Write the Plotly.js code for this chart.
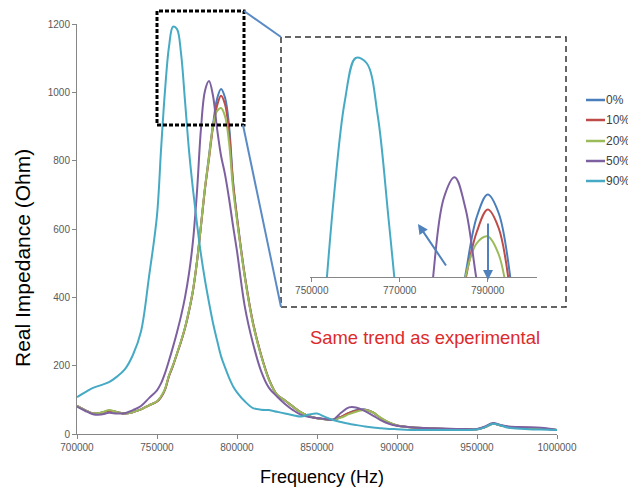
<!DOCTYPE html>
<html>
<head>
<meta charset="utf-8">
<script src="https://cdn.plot.ly/plotly-3.0.1.min.js"></script>
<style>html,body{margin:0;padding:0;background:#fff;}#chart{width:628px;height:491px;}</style>
</head>
<body>
<div id="chart"></div>
<script>
// ---- data ----
const freq = [700000,705000,710000,715000,720000,725000,730000,735000,740000,745000,
  750000,752500,755000,757500,760000,762500,765000,767500,770000,772500,
  775000,777500,780000,782500,785000,787500,790000,792500,795000,797500,
  800000,805000,810000,815000,820000,825000,830000,835000,840000,845000,
  850000,855000,860000,865000,870000,875000,880000,885000,890000,895000,
  900000,910000,920000,930000,940000,950000,955000,960000,965000,970000,
  980000,990000,1000000];

const pct0 = [82,70,60,62,68,64,60,64,72,84,
  95,108,130,170,200,235,270,310,360,420,
  505,610,720,815,905,980,1010,985,905,740,
  635,460,325,232,160,115,98,80,63,52,
  46,43,42,50,62,70,72,63,46,33,
  25,19,17,15,14,14,20,30,25,20,
  18,16,12];

const pct10 = [82,70,60,62,68,64,60,64,72,84,
  95,108,130,170,200,235,270,310,360,420,
  505,610,718,805,898,960,990,965,885,735,
  632,458,325,232,160,115,98,80,63,52,
  46,43,42,50,62,69,71,63,46,33,
  25,19,17,15,14,14,20,30,25,20,
  18,16,12];

const pct20 = [82,70,60,62,70,64,60,64,72,84,
  96,110,132,172,202,236,272,312,362,422,
  506,612,722,810,902,945,954,930,855,720,
  625,455,322,230,158,115,98,80,63,52,
  46,43,42,48,58,66,70,63,47,34,
  25,19,17,15,14,14,20,30,25,20,
  18,16,12];

const pct50 = [80,68,58,57,62,60,61,70,82,105,
  128,148,178,215,255,298,345,400,470,565,
  710,895,1005,1033,990,895,815,760,690,610,
  535,370,265,185,135,110,88,70,56,50,
  47,44,42,62,78,77,67,54,40,30,
  24,19,17,16,15,15,22,32,26,22,
  20,18,12];

const pct90 = [108,122,135,143,152,168,190,232,300,460,
  640,830,1005,1134,1192,1185,1115,975,830,715,
  615,525,450,385,325,275,228,195,165,140,
  122,95,76,71,70,65,60,55,51,57,
  60,50,41,35,30,26,22,19,17,15,
  14,12,12,12,12,13,20,30,25,18,
  15,13,12];

const seriesNames = ['0%','10%','20%','50%','90%'];
const seriesColors = ['#4A7EBB','#BE4B48','#9BBB59','#7D60A0','#46AAC5'];
const seriesValues = [pct0, pct10, pct20, pct50, pct90];

const mainTicks = [700000,750000,800000,850000,900000,950000,1000000];
const insetTicks = [750000,770000,790000];

// ---- layout helpers (pixel -> paper) ----
const PX = v => (v - 77) / 480;
const PY = v => (434 - v) / 410;
const FONT = 'Liberation Sans, Arial, sans-serif';

const traces = [];
seriesValues.forEach((vals, i) => {
  traces.push({x: freq, y: vals, name: seriesNames[i], type: 'scatter', mode: 'lines',
    xaxis: 'x', yaxis: 'y', showlegend: false,
    line: {color: seriesColors[i], width: 2, shape: 'spline', smoothing: 1}});
});
seriesValues.forEach((vals, i) => {
  traces.push({x: freq, y: vals, name: seriesNames[i], type: 'scatter', mode: 'lines',
    xaxis: 'x2', yaxis: 'y2', showlegend: false,
    line: {color: seriesColors[i], width: 2, shape: 'spline', smoothing: 1}});
});

const axisStyle = {
  showline: true, linecolor: '#868686', linewidth: 1,
  ticks: 'outside', ticklen: 4, tickcolor: '#868686',
  showgrid: false, zeroline: false,
  tickfont: {family: FONT, size: 10, color: '#595959'}
};

const shapes = [
  // zoom box on main chart
  {type: 'rect', xref: 'paper', yref: 'paper', x0: PX(157), x1: PX(244), y0: PY(125), y1: PY(11),
   line: {color: '#000', width: 3, dash: '4px,2px'}},
  // inset frame
  {type: 'rect', xref: 'paper', yref: 'paper', x0: PX(281), x1: PX(566), y0: PY(307), y1: PY(37),
   line: {color: '#333', width: 1.5, dash: '6px,4px'}},
  // connectors
  {type: 'line', xref: 'paper', yref: 'paper', x0: PX(244), y0: PY(11), x1: PX(281), y1: PY(37),
   line: {color: '#5B8BC5', width: 2}},
  {type: 'line', xref: 'paper', yref: 'paper', x0: PX(243), y0: PY(125), x1: PX(281), y1: PY(307),
   line: {color: '#5B8BC5', width: 2}}
];

const annotations = [
  {xref: 'paper', yref: 'paper', x: PX(322), y: PY(477), text: 'Frequency (Hz)', showarrow: false,
   xanchor: 'center', yanchor: 'middle', font: {family: FONT, size: 18, color: '#000'}},
  {xref: 'paper', yref: 'paper', x: PX(22), y: PY(258), text: 'Real Impedance (Ohm)', showarrow: false,
   textangle: -90, xanchor: 'center', yanchor: 'middle', font: {family: FONT, size: 21, color: '#000'}},
  {xref: 'paper', yref: 'paper', x: PX(425), y: PY(337), text: 'Same trend as experimental', showarrow: false,
   xanchor: 'center', yanchor: 'middle', font: {family: FONT, size: 18.4, color: '#DC2A2A'}},
  // arrows in inset
  {xref: 'paper', yref: 'paper', x: PX(418), y: PY(224), text: '', showarrow: true,
   axref: 'pixel', ayref: 'pixel', ax: 29, ay: 43, arrowhead: 2, arrowsize: 1, arrowwidth: 2, arrowcolor: '#4F81BD'},
  {xref: 'paper', yref: 'paper', x: PX(488), y: PY(280), text: '', showarrow: true,
   axref: 'pixel', ayref: 'pixel', ax: 0, ay: -58, arrowhead: 2, arrowsize: 1, arrowwidth: 2, arrowcolor: '#4F81BD'}
];

// manual legend
const legendY = [100, 120, 141, 161, 181];
seriesNames.forEach((n, i) => {
  shapes.push({type: 'line', xref: 'paper', yref: 'paper', x0: PX(586), x1: PX(605), y0: PY(legendY[i]), y1: PY(legendY[i]),
    line: {color: seriesColors[i], width: 2.5}});
  annotations.push({xref: 'paper', yref: 'paper', x: PX(604), y: PY(legendY[i]), text: n, showarrow: false,
    xanchor: 'left', yanchor: 'middle', font: {family: FONT, size: 12, color: '#404040'}});
});

const layout = {
  width: 628, height: 491,
  margin: {l: 77, r: 71, t: 24, b: 57, pad: 0},
  paper_bgcolor: '#fff', plot_bgcolor: 'rgba(0,0,0,0)',
  showlegend: false,
  xaxis: Object.assign({}, axisStyle, {domain: [0, 1], range: [700000, 1000000], tickvals: mainTicks, tickformat: 'd', anchor: 'y'}),
  yaxis: Object.assign({}, axisStyle, {domain: [0, 1], range: [0, 1200], dtick: 200, tick0: 0, anchor: 'x'}),
  xaxis2: Object.assign({}, axisStyle, {domain: [PX(310), PX(537)], range: [749600, 801200], tickvals: insetTicks, tickformat: 'd', anchor: 'y2'}),
  yaxis2: {domain: [PY(277), PY(37)], range: [900, 1220], anchor: 'x2', visible: false, showgrid: false, zeroline: false},
  shapes: shapes,
  annotations: annotations
};

Plotly.newPlot('chart', traces, layout, {staticPlot: true, displayModeBar: false});
</script>
</body>
</html>
